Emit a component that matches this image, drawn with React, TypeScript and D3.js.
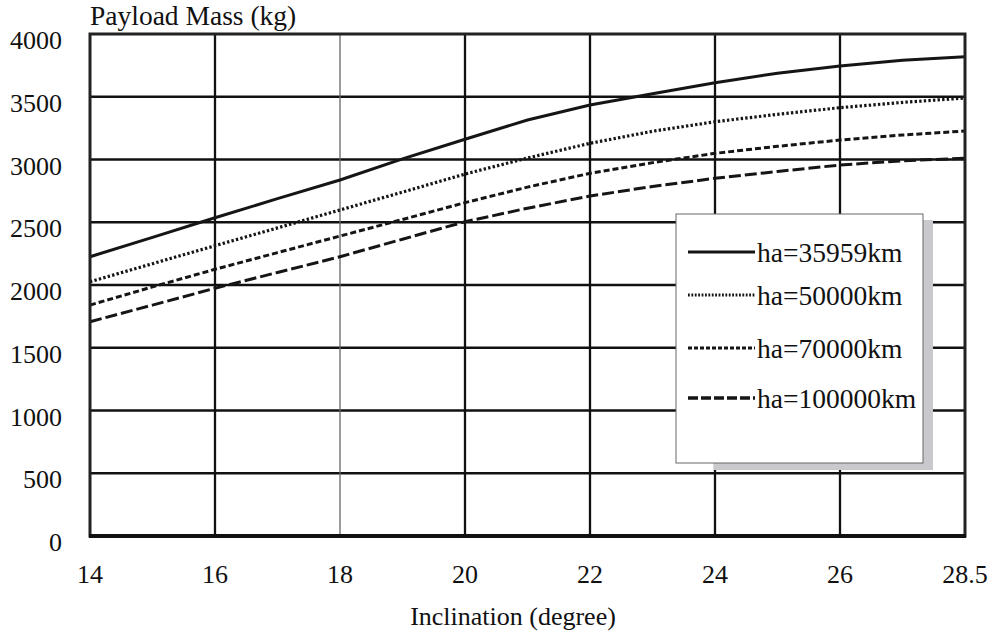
import React, { useEffect, useRef } from "react";
import * as d3 from "d3";

// inclination categories (the axis is a category axis, labelled every other point)
const inclinations = ["14", "15", "16", "17", "18", "19", "20", "21", "22", "23", "24", "25", "26", "27", "28.5"];
const tickLabels = ["14", "16", "18", "20", "22", "24", "26", "28.5"];
const yTicks = [0, 500, 1000, 1500, 2000, 2500, 3000, 3500, 4000];

const ha35959 = [2225, 2380, 2536, 2688, 2837, 3005, 3161, 3315, 3434, 3524, 3612, 3688, 3745, 3790, 3819];
const ha50000 = [2026, 2170, 2313, 2455, 2598, 2740, 2884, 3012, 3129, 3225, 3301, 3360, 3413, 3455, 3490];
const ha70000 = [1840, 1985, 2125, 2258, 2390, 2522, 2656, 2780, 2890, 2975, 3049, 3105, 3155, 3195, 3227];
const ha100000 = [1707, 1840, 1974, 2100, 2225, 2365, 2504, 2612, 2709, 2785, 2850, 2905, 2956, 2990, 3010];

const seriesNames = ["ha=35959km", "ha=50000km", "ha=70000km", "ha=100000km"];
const dashes = ["none", "2.4,2.2", "6,3", "12,4"];

const width = 989;
const height = 634;
const font = "'Liberation Serif', 'Times New Roman', serif";

const App = () => {
  const chart = useRef<SVGSVGElement>(null);

  useEffect(() => {
    const svg = d3.select(chart.current);
    svg.selectAll("*").remove();

    const x = d3.scalePoint<string>().domain(inclinations).range([90, 965]);
    const y = d3.scaleLinear().domain([0, 4000]).range([536, 34]);
    const series = [ha35959, ha50000, ha70000, ha100000];

    // grid
    const grid = svg.append("g");
    grid
      .selectAll("line.h")
      .data(yTicks.slice(1, -1))
      .join("line")
      .attr("x1", 90)
      .attr("x2", 965)
      .attr("y1", d => y(d))
      .attr("y2", d => y(d))
      .attr("stroke", "#111")
      .attr("stroke-width", 2.3);
    grid
      .selectAll("line.v")
      .data(tickLabels.slice(1, -1))
      .join("line")
      .attr("x1", d => x(d)!)
      .attr("x2", d => x(d)!)
      .attr("y1", y(4000))
      .attr("y2", y(0))
      .attr("stroke", d => (d === "18" ? "#666" : "#111"))
      .attr("stroke-width", d => (d === "18" ? 1.3 : 2.3));

    // curves
    const line = d3
      .line<number>()
      .x((d, i) => x(inclinations[i])!)
      .y(d => y(d));
    svg
      .append("g")
      .selectAll("path")
      .data(series)
      .join("path")
      .attr("d", d => line(d))
      .attr("fill", "none")
      .attr("stroke", "#151515")
      .attr("stroke-width", (d, i) => (i === 1 ? 3.2 : 3))
      .attr("stroke-dasharray", (d, i) => dashes[i]);

    // frame
    svg
      .append("rect")
      .attr("x", 90)
      .attr("y", y(4000))
      .attr("width", 875)
      .attr("height", y(0) - y(4000))
      .attr("fill", "none")
      .attr("stroke", "#222")
      .attr("stroke-width", 3);
    svg
      .append("line")
      .attr("x1", 89)
      .attr("x2", 966)
      .attr("y1", y(0))
      .attr("y2", y(0))
      .attr("stroke", "#111")
      .attr("stroke-width", 4);

    // axis labels
    svg
      .append("g")
      .selectAll("text")
      .data(yTicks)
      .join("text")
      .attr("x", 62)
      .attr("y", d => y(d) + 15)
      .attr("text-anchor", "end")
      .attr("font-family", font)
      .attr("font-size", 26)
      .attr("fill", "#111")
      .text(d => d);
    svg
      .append("g")
      .selectAll("text")
      .data(tickLabels)
      .join("text")
      .attr("x", d => x(d)!)
      .attr("y", 583)
      .attr("text-anchor", "middle")
      .attr("font-family", font)
      .attr("font-size", 26)
      .attr("fill", "#111")
      .text(d => d);
    svg
      .append("text")
      .attr("x", 90)
      .attr("y", 25)
      .attr("font-family", font)
      .attr("font-size", 27.5)
      .attr("fill", "#111")
      .text("Payload Mass (kg)");
    svg
      .append("text")
      .attr("x", 513)
      .attr("y", 625)
      .attr("text-anchor", "middle")
      .attr("font-family", font)
      .attr("font-size", 26)
      .attr("fill", "#111")
      .text("Inclination (degree)");

    // legend
    const legend = svg.append("g");
    legend
      .append("rect")
      .attr("x", 714)
      .attr("y", 220)
      .attr("width", 219)
      .attr("height", 250)
      .attr("fill", "#c9c9cd");
    legend
      .append("rect")
      .attr("x", 676)
      .attr("y", 214)
      .attr("width", 247)
      .attr("height", 249)
      .attr("fill", "#fff")
      .attr("stroke", "#666")
      .attr("stroke-width", 1);
    const rowsY = [252, 295, 348, 398];
    const rows = legend
      .selectAll("g.row")
      .data(seriesNames)
      .join("g")
      .attr("transform", (d, i) => `translate(0,${rowsY[i]})`);
    rows
      .append("line")
      .attr("x1", 688)
      .attr("x2", 755)
      .attr("stroke", "#151515")
      .attr("stroke-width", (d, i) => (i === 3 ? 3.4 : 2.8))
      .attr("stroke-dasharray", (d, i) => (i === 1 ? "1.8,1.6" : i === 2 ? "4,2" : i === 3 ? "10,3" : "none"));
    rows
      .append("text")
      .attr("x", 757)
      .attr("y", 10)
      .attr("font-family", font)
      .attr("font-size", 27.5)
      .attr("fill", "#111")
      .text(d => d);
  }, []);

  return (
    <svg
      ref={chart}
      width={width}
      height={height}
      viewBox={`0 0 ${width} ${height}`}
      style={{ position: "absolute", left: 0, top: 0, background: "#fff" }}
    ></svg>
  );
};

export default App;
